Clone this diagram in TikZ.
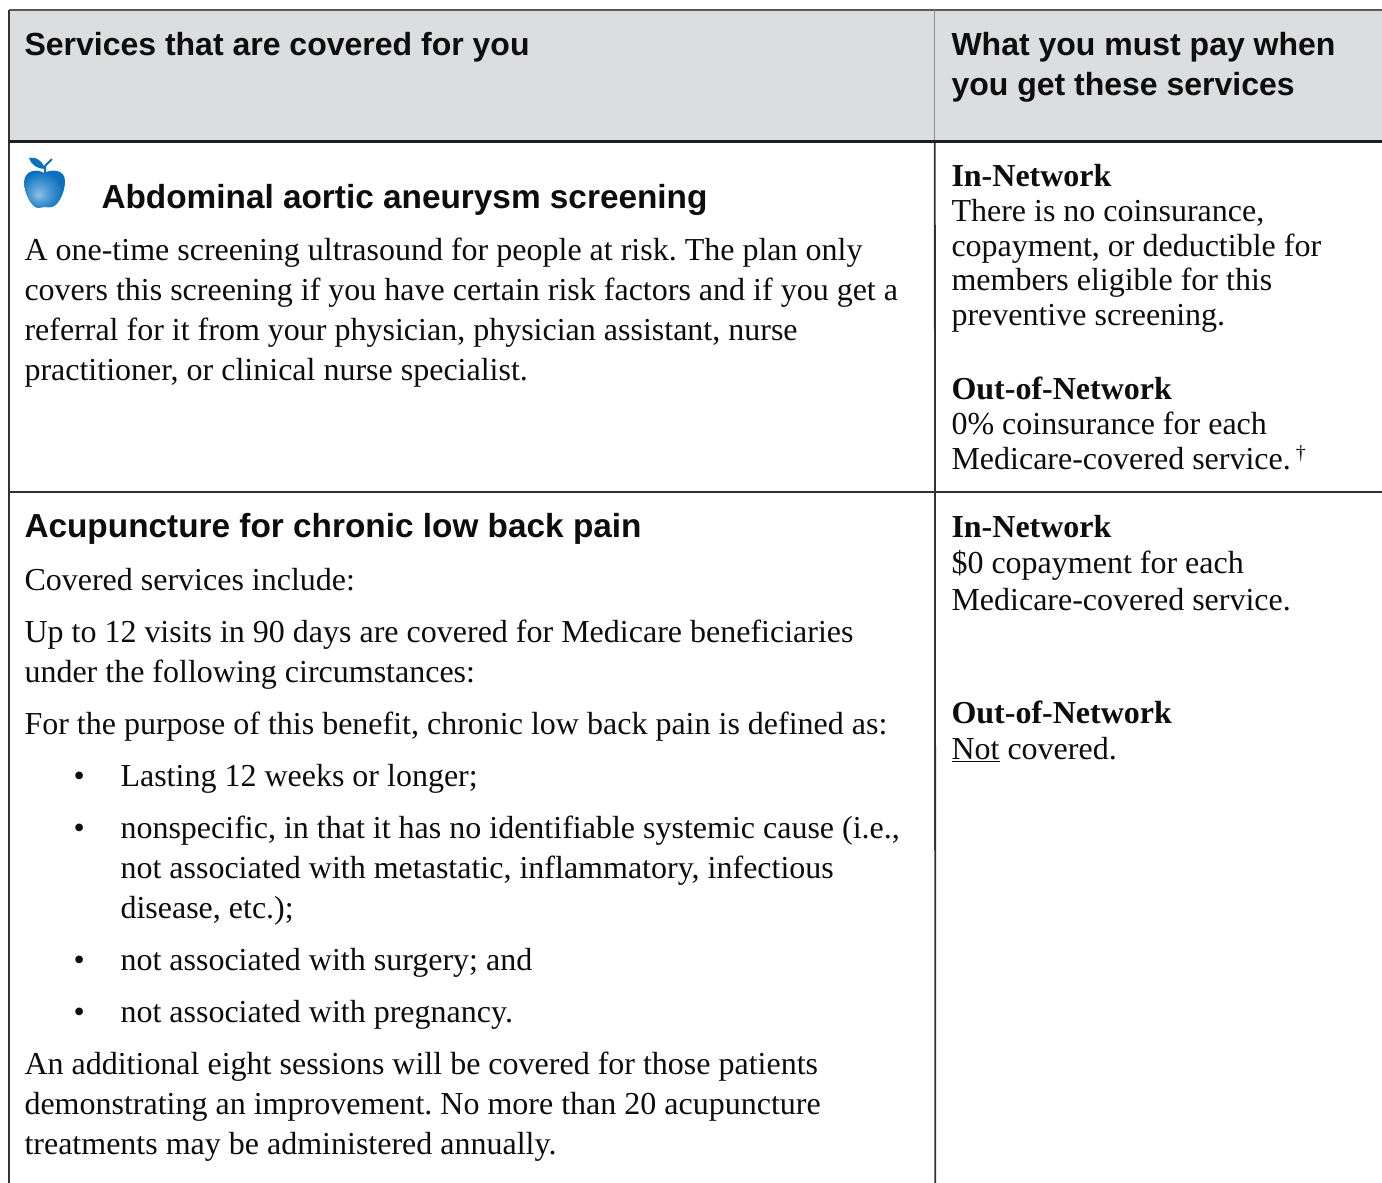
\documentclass[tikz,border=0pt]{standalone}
\usepackage{fontspec}
\setmainfont{Liberation Serif}
\newfontfamily\headfont{Liberation Sans}
\definecolor{hdr}{HTML}{DCDDDF}
\definecolor{applebl}{HTML}{0B70BE}
\definecolor{applelt}{HTML}{8FC3E8}
\pgfdeclareradialshading{appleshade}{\pgfpoint{-8bp}{-8bp}}{color(0bp)=(applelt); color(9bp)=(applelt!60!applebl); color(26bp)=(applebl); color(50bp)=(applebl)}
\frenchspacing
\begin{document}
\begin{tikzpicture}[x=1pt,y=-1pt,
  txt/.style={anchor=base west,inner sep=0pt,outer sep=0pt,font=\frenchspacing\fontsize{32}{32}\selectfont,text=black!95},
  rtxt/.style={txt},
  rhead/.style={txt,font=\fontsize{32}{32}\selectfont\bfseries},
  head/.style={txt,font=\fontsize{32}{32}\selectfont\headfont\bfseries},
  bighead/.style={txt,font=\fontsize{33.35}{33}\selectfont\headfont\bfseries},
  rule/.style={draw=black!80,line width=1.8pt},
  hrule/.style={draw=black!88,line width=3pt}]
\useasboundingbox (0,0) rectangle (1382,1183);
\fill[white] (0,0) rectangle (1382,1183);
\fill[hdr] (9,10) rectangle (1382,141);
% grid
\coordinate (tl) at (9,10); \coordinate (tr) at (1382,10);
\coordinate (ml) at (9,141.5); \coordinate (mr) at (1382,141.5);
\coordinate (rl) at (9,492); \coordinate (rr) at (1382,492);
\coordinate (bl) at (9,1183);
\coordinate (vt) at (934.8,10); \coordinate (vm) at (934.8,141.5); \coordinate (vb) at (935.3,1183);
\draw[draw=black!65,line width=1.6pt] (tl) -- (tr);
\draw[draw=black!45,line width=1.2pt] (vt) -- (vm);
\draw[rule] (tl) -- (bl);
\draw[rule] (vm) -- (vb);
\draw[hrule] (ml) -- (mr);
\draw[rule] (rl) -- (rr);
% apple
\shade[shading=appleshade]
  (44,173) .. controls (38,169) and (25,169) .. (24,182) .. controls (24,194) and (32,208) .. (38,208)
  .. controls (41,208) and (43,207) .. (45,207) .. controls (47,207) and (49,208) .. (52,207)
  .. controls (59,205) and (65,192) .. (65,181) .. controls (65,169) and (51,169) .. (44,173) -- cycle;
\fill[applebl] (29,158) .. controls (35,156) and (43,161) .. (45,169) .. controls (38,169) and (31,165) .. (29,158) -- cycle;
\draw[applebl,line width=2pt] (45,173) -- (45,166) -- (52,159);
% header
\node[head] (h1) at (24.5,55) {Services that are covered for you};
\node[head] (h2) at (951.5,55) {What you must pay when};
\node[head] (h3) at (951.5,95) {you get these services};
% row 1
\node[bighead] (a0) at (101.5,208) {Abdominal aortic aneurysm screening};
\node[txt] (a1) at (24.5,260) {A one-time screening ultrasound for people at risk. The plan only};
\node[txt] (a2) at (24.5,300) {covers this screening if you have certain risk factors and if you get a};
\node[txt] (a3) at (24.5,340) {referral for it from your physician, physician assistant, nurse};
\node[txt] (a4) at (24.5,380) {practitioner, or clinical nurse specialist.};
\node[rhead] (b0) at (951.5,186.5) {In-Network};
\node[rtxt] (b1) at (951.5,221) {There is no coinsurance,};
\node[rtxt] (b2) at (951.5,256) {copayment, or deductible for};
\node[rtxt] (b3) at (951.5,290) {members eligible for this};
\node[rtxt] (b4) at (951.5,325) {preventive screening.};
\node[rhead] (b5) at (951.5,399.5) {Out-of-Network};
\node[rtxt] (b6) at (951.5,434) {0\% coinsurance for each};
\node[rtxt] (b7) at (951.5,469) {Medicare-covered service.\hspace{5pt}\raisebox{10pt}{\fontsize{20}{20}\selectfont †}};
% row 2
\node[bighead] (c0) at (24.5,537) {Acupuncture for chronic low back pain};
\node[txt] (c1) at (24.5,590) {Covered services include:};
\node[txt] (c2) at (24.5,642) {Up to 12 visits in 90 days are covered for Medicare beneficiaries};
\node[txt] (c3) at (24.5,682) {under the following circumstances:};
\node[txt] (c4) at (24.5,734) {For the purpose of this benefit, chronic low back pain is defined as:};
\node[txt] (d1) at (73.5,786) {•}; \node[txt] (c5) at (120.5,786) {Lasting 12 weeks or longer;};
\node[txt] (d2) at (73.5,838) {•}; \node[txt] (c6) at (120.5,838) {nonspecific, in that it has no identifiable systemic cause (i.e.,};
\node[txt] (c7) at (120.5,878) {not associated with metastatic, inflammatory, infectious};
\node[txt] (c8) at (120.5,918) {disease, etc.);};
\node[txt] (d3) at (73.5,970) {•}; \node[txt] (c9) at (120.5,970) {not associated with surgery; and};
\node[txt] (d4) at (73.5,1022) {•}; \node[txt] (c10) at (120.5,1022) {not associated with pregnancy.};
\node[txt] (c11) at (24.5,1074) {An additional eight sessions will be covered for those patients};
\node[txt] (c12) at (24.5,1114) {demonstrating an improvement. No more than 20 acupuncture};
\node[txt] (c13) at (24.5,1154) {treatments may be administered annually.};
\node[rhead] (e0) at (951.5,537.5) {In-Network};
\node[rtxt] (e1) at (951.5,573) {\$0 copayment for each};
\node[rtxt] (e2) at (951.5,610) {Medicare-covered service.};
\node[rhead] (e3) at (951.5,723.5) {Out-of-Network};
\node[rtxt] (e4) at (951.5,759) {\underline{Not} covered.};
\end{tikzpicture}
\end{document}
